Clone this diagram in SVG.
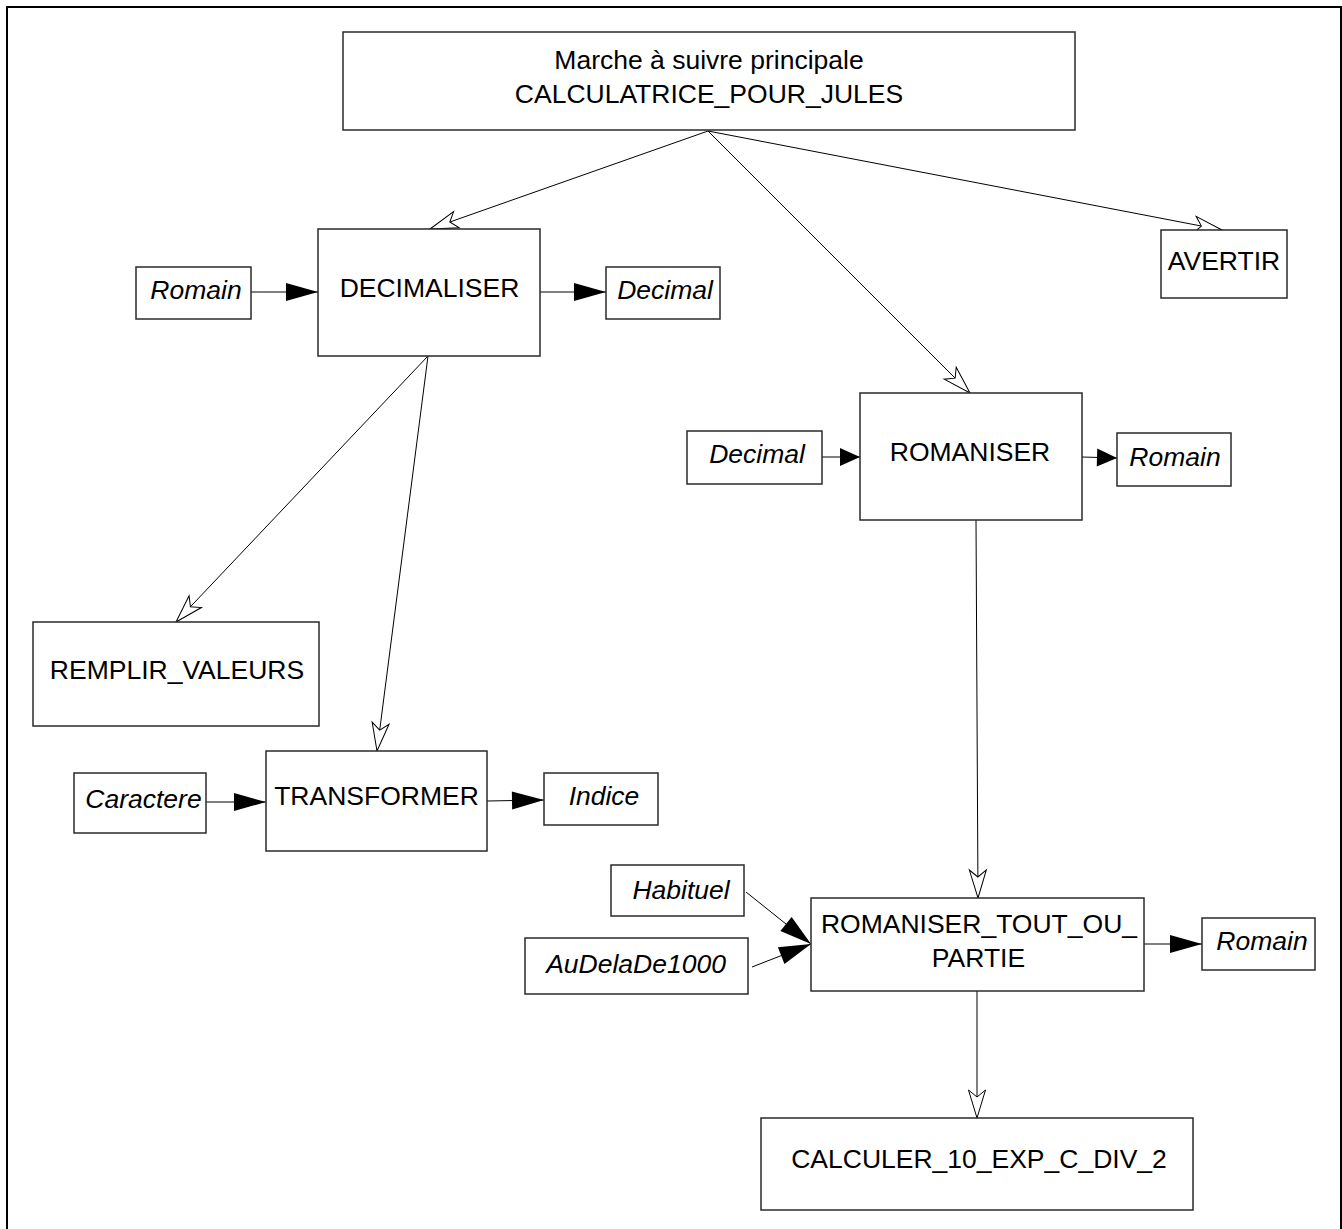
<svg xmlns="http://www.w3.org/2000/svg" width="1342" height="1229" viewBox="0 0 1342 1229">
  <style>
    .box { fill: #fff; stroke: #2a2a2a; stroke-width: 1.5; }
    .lbl { font-family: "Liberation Sans", Arial, sans-serif; font-size: 26.5px; fill: #000; text-anchor: middle; }
    .it { font-style: italic; }
    .call { fill: none; stroke: #000; stroke-width: 1; marker-end: url(#open); }
    .flow { fill: none; stroke: #000; stroke-width: 1; marker-end: url(#solid); }
    .flow-s { fill: none; stroke: #000; stroke-width: 1; marker-end: url(#solid-s); }
  </style>
  <defs>
    <!-- hollow notched head for procedure calls -->
    <marker id="open" viewBox="-32 -11 34 22" markerWidth="34" markerHeight="22" refX="0" refY="0" orient="auto" markerUnits="userSpaceOnUse">
      <path d="M0,0 L-28,-8.5 L-21,0 L-28,8.5 Z" fill="#fff" stroke="#000" stroke-width="1"/>
    </marker>
    <!-- solid heads for data flow -->
    <marker id="solid" viewBox="-34 -11 36 22" markerWidth="36" markerHeight="22" refX="0" refY="0" orient="auto" markerUnits="userSpaceOnUse">
      <path d="M0,0 L-32,-9 L-32,9 Z" fill="#000"/>
    </marker>
    <marker id="solid-s" viewBox="-24 -11 26 22" markerWidth="26" markerHeight="22" refX="0" refY="0" orient="auto" markerUnits="userSpaceOnUse">
      <path d="M0,0 L-20,-9 L-20,9 Z" fill="#000"/>
    </marker>
  </defs>

  <rect width="1342" height="1229" fill="#fff"/>
  <!-- page frame -->
  <path d="M7,1229 V7 H1341 V1229" fill="none" stroke="#000" stroke-width="2"/>

  <g id="connectors">
    <path class="call" d="M708,131 L430,229"/>
    <path class="call" d="M708,131 L970,393"/>
    <path class="call" d="M708,131 L1222,230"/>
    <path class="call" d="M428,356 L176,622"/>
    <path class="call" d="M428,356 L377,751"/>
    <path class="call" d="M976,520 L978,898"/>
    <path class="call" d="M977,991 L977,1118"/>
    <path class="flow" d="M251,292 L318,292"/>
    <path class="flow" d="M540,292 L606,292"/>
    <path class="flow-s" d="M822,457 L860,457"/>
    <path class="flow-s" d="M1082,457 L1117,458"/>
    <path class="flow" d="M206,802 L266,802"/>
    <path class="flow" d="M487,801 L544,800"/>
    <path class="flow" d="M746,892 L811,944"/>
    <path class="flow" d="M752,967 L811,944"/>
    <path class="flow" d="M1144,944 L1202,944"/>
  </g>

  <g id="main">
    <rect class="box" x="343" y="32" width="732" height="98"/>
    <text class="lbl" x="709" y="69">Marche à suivre principale</text>
    <text class="lbl" x="709" y="103">CALCULATRICE_POUR_JULES</text>
  </g>

  <g id="decimaliser">
    <rect class="box" x="318" y="229" width="222" height="127"/>
    <text class="lbl" x="429.5" y="297">DECIMALISER</text>
  </g>
  <g id="dec-in-romain">
    <rect class="box" x="136" y="267" width="115" height="52"/>
    <text class="lbl it" x="196" y="299">Romain</text>
  </g>
  <g id="dec-out-decimal">
    <rect class="box" x="606" y="267" width="114" height="52"/>
    <text class="lbl it" x="665" y="299">Decimal</text>
  </g>

  <g id="avertir">
    <rect class="box" x="1161" y="230" width="126" height="68"/>
    <text class="lbl" x="1224" y="270">AVERTIR</text>
  </g>

  <g id="romaniser">
    <rect class="box" x="860" y="393" width="222" height="127"/>
    <text class="lbl" x="970" y="461">ROMANISER</text>
  </g>
  <g id="rom-in-decimal">
    <rect class="box" x="687" y="431" width="135" height="53"/>
    <text class="lbl it" x="757" y="463">Decimal</text>
  </g>
  <g id="rom-out-romain">
    <rect class="box" x="1117" y="433" width="114" height="53"/>
    <text class="lbl it" x="1175" y="466">Romain</text>
  </g>

  <g id="remplir-valeurs">
    <rect class="box" x="33" y="622" width="286" height="104"/>
    <text class="lbl" x="177" y="679">REMPLIR_VALEURS</text>
  </g>

  <g id="transformer">
    <rect class="box" x="266" y="751" width="221" height="100"/>
    <text class="lbl" x="376.5" y="805">TRANSFORMER</text>
  </g>
  <g id="tr-in-caractere">
    <rect class="box" x="74" y="773" width="132" height="60"/>
    <text class="lbl it" x="143.5" y="808">Caractere</text>
  </g>
  <g id="tr-out-indice">
    <rect class="box" x="544" y="773" width="114" height="52"/>
    <text class="lbl it" x="604" y="805">Indice</text>
  </g>

  <g id="romaniser-tout-ou-partie">
    <rect class="box" x="811" y="898" width="333" height="93"/>
    <text class="lbl" x="979" y="933">ROMANISER_TOUT_OU_</text>
    <text class="lbl" x="978.5" y="967">PARTIE</text>
  </g>
  <g id="rtp-in-habituel">
    <rect class="box" x="611" y="865" width="133" height="51"/>
    <text class="lbl it" x="681" y="899">Habituel</text>
  </g>
  <g id="rtp-in-audelade1000">
    <rect class="box" x="525" y="938" width="223" height="56"/>
    <text class="lbl it" x="636" y="973">AuDelaDe1000</text>
  </g>
  <g id="rtp-out-romain">
    <rect class="box" x="1202" y="918" width="113" height="52"/>
    <text class="lbl it" x="1262" y="950">Romain</text>
  </g>

  <g id="calculer-10-exp-c-div-2">
    <rect class="box" x="761" y="1118" width="432" height="92"/>
    <text class="lbl" x="979" y="1168">CALCULER_10_EXP_C_DIV_2</text>
  </g>
</svg>
